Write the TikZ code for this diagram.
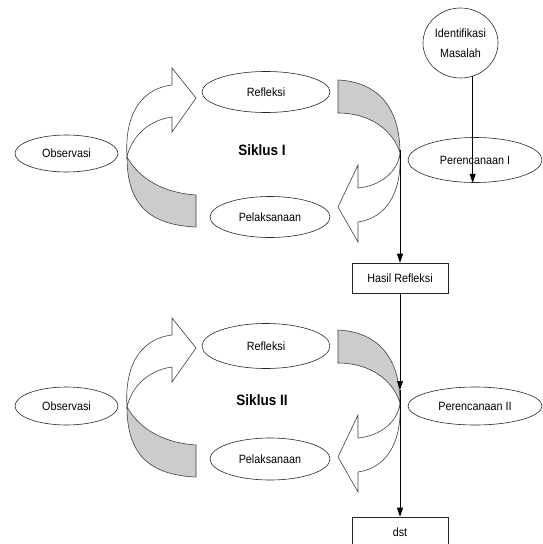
\documentclass[tikz,border=0pt]{standalone}
\usepackage{fontspec}
\setmainfont{Liberation Sans}[FakeStretch=0.9]
\usetikzlibrary{shapes.geometric,arrows.meta}
\tikzset{
  ell/.style={draw=black!85, line width=0.6pt, ellipse, inner sep=0pt, font=\fontsize{12}{14}\selectfont},
  boxn/.style={draw=black!85, line width=0.6pt, rectangle, inner sep=0pt, minimum width=96pt, minimum height=30pt, font=\fontsize{12}{14}\selectfont},
  ttl/.style={font=\fontsize{15}{17}\selectfont\bfseries},
  arr/.style={line width=0.6pt, -{Triangle[length=9pt,width=6pt]}},
  ln/.style={line width=0.6pt},
  back/.style={draw=black!75, line width=0.6pt, fill=gray!40},
  front/.style={draw=black!75, line width=0.6pt, fill=white},
}
\begin{document}
\begin{tikzpicture}[x=1pt,y=-1pt]
\useasboundingbox (0,0) rectangle (542,544);
% ---------- ribbons (both cycles) ----------
\foreach \dy in {0,250}{
\begin{scope}[shift={(0,\dy)}]
  % left ribbon
  \draw[back] (196,227) .. controls (150,225) and (127,205) .. (127,157)
        .. controls (140,180) and (165,193) .. (196,195) -- cycle;
  \draw[front] (127,157) .. controls (124,110) and (145,88) .. (172,85)
        -- (172,68) -- (196,98) -- (172,132) -- (172,117)
        .. controls (150,120) and (132,135) .. (127,157) -- cycle;
  % right ribbon
  \draw[back] (338,80) .. controls (380,82) and (400,110) .. (400,153)
        .. controls (393,130) and (370,113) .. (338,113) -- cycle;
  \draw[front] (400,153) .. controls (402,195) and (385,218) .. (358,222)
        -- (358,242) -- (338,207) -- (358,165) -- (358,188)
        .. controls (380,186) and (398,172) .. (400,153) -- cycle;
\end{scope}}
% ---------- cycle I ----------
\node[ell, minimum width=128pt, minimum height=41pt] (refl1) at (266,92) {Refleksi};
\node[ell, minimum width=120pt, minimum height=41pt] (pel1) at (270,217) {Pelaksanaan};
\node[ell, minimum width=103pt, minimum height=37pt] (obs1) at (66.5,153.5) {Observasi};
\node[ell, minimum width=134pt, minimum height=45pt] (per1) at (475,160) {Perencanaan I};
\node[ttl] (sik1) at (262,150) {Siklus I};
\node[ell, minimum width=75pt, minimum height=70pt, align=center,
      font=\fontsize{12}{20}\selectfont] (ident) at (460.5,43) {Identifikasi\\Masalah};
\node[boxn] (hasil) at (400,278) {Hasil Refleksi};
% ---------- cycle II ----------
\node[ell, minimum width=128pt, minimum height=45pt] (refl2) at (266,346) {Refleksi};
\node[ell, minimum width=120pt, minimum height=42pt] (pel2) at (270,459) {Pelaksanaan};
\node[ell, minimum width=103pt, minimum height=38pt] (obs2) at (66.5,406) {Observasi};
\node[ell, minimum width=134pt, minimum height=38pt] (per2) at (475,406) {Perencanaan II};
\node[ttl] (sik2) at (262,400) {Siklus II};
\node[boxn] (dst) at (400,532) {dst};
% ---------- connectors ----------
\coordinate (c1) at (400,150);
\coordinate (c2) at (400,390);
\draw[arr] (ident.-70) -- (ident.-70 |- per1.south);
\draw[arr] (c1) -- (hasil.north);
\draw[arr] (hasil.south) -- (c2);
\draw[arr] (c2) -- (dst.north);
\end{tikzpicture}
\end{document}
